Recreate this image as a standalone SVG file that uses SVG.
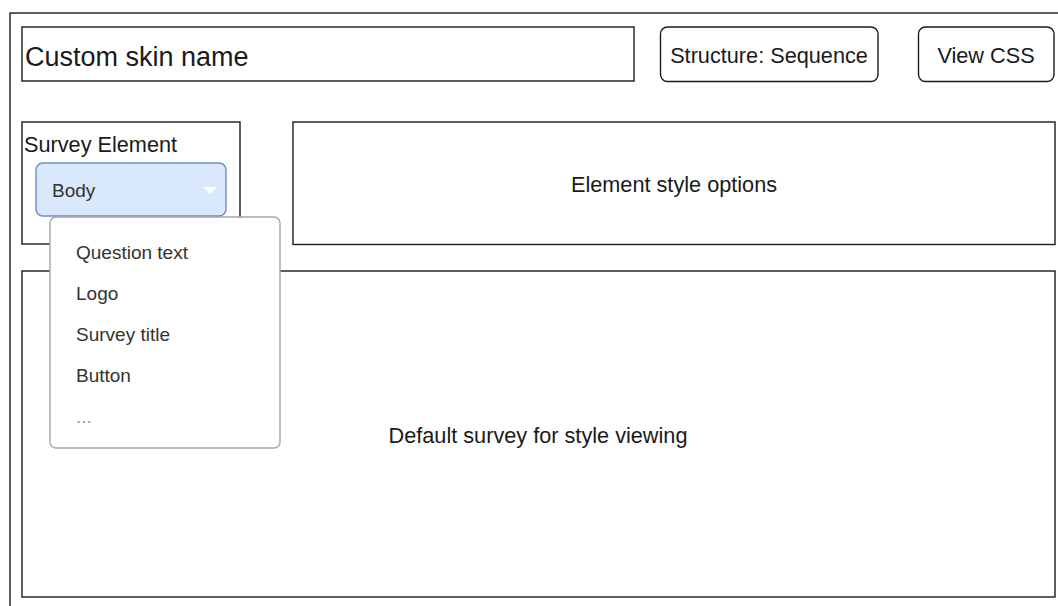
<svg xmlns="http://www.w3.org/2000/svg" width="1058" height="606" viewBox="0 0 1058 606">
<style>
.box{fill:#fff;stroke:#1a1a1a;stroke-width:1.4}
.t{font-family:"Liberation Sans",Arial,sans-serif;fill:#1a1a1a;font-size:21.7px}
.m{font-family:"Liberation Sans",Arial,sans-serif;fill:#333;font-size:19px}
</style>
<rect width="1058" height="606" fill="#fff"/>
<g id="frame"><rect class="box" x="10" y="13" width="1080" height="620"/></g>
<g id="skin-name"><rect class="box" x="22" y="27" width="612" height="54"/><text class="t" x="25" y="66" style="font-size:27px">Custom skin name</text></g>
<g id="structure"><rect class="box" x="660.5" y="27" width="217.5" height="54.5" rx="7"/><text class="t" x="769" y="63" text-anchor="middle">Structure: Sequence</text></g>
<g id="view-css"><rect class="box" x="918.5" y="27" width="135.5" height="54.5" rx="7"/><text class="t" x="986" y="63" text-anchor="middle">View CSS</text></g>
<g id="survey-element"><rect class="box" x="22" y="122" width="218" height="122"/><text class="t" x="24" y="152">Survey Element</text></g>
<g id="style-options"><rect class="box" x="293" y="122" width="762" height="122.5"/><text class="t" x="674" y="192" text-anchor="middle">Element style options</text></g>
<g id="default-survey"><rect class="box" x="22" y="271" width="1033" height="326"/><text class="t" x="538" y="443" text-anchor="middle">Default survey for style viewing</text></g>
<g id="body-select"><rect x="36" y="163" width="190" height="53" rx="7" fill="#dae8fc" stroke="#6c8ebf" stroke-width="1.4"/><text class="m" x="52" y="197">Body</text><polygon points="203,187 217,187 210,194" fill="#fff"/></g>
<g id="menu"><rect x="50" y="217" width="230" height="231" rx="6" fill="#fff" stroke="#a6a6a6" stroke-width="1.4"/>
<text class="m" x="76" y="259">Question text</text>
<text class="m" x="76" y="300">Logo</text>
<text class="m" x="76" y="341">Survey title</text>
<text class="m" x="76" y="382">Button</text>
<text class="m" x="76" y="423" style="fill:#999">...</text></g>
<g id="connectors"/>
</svg>
